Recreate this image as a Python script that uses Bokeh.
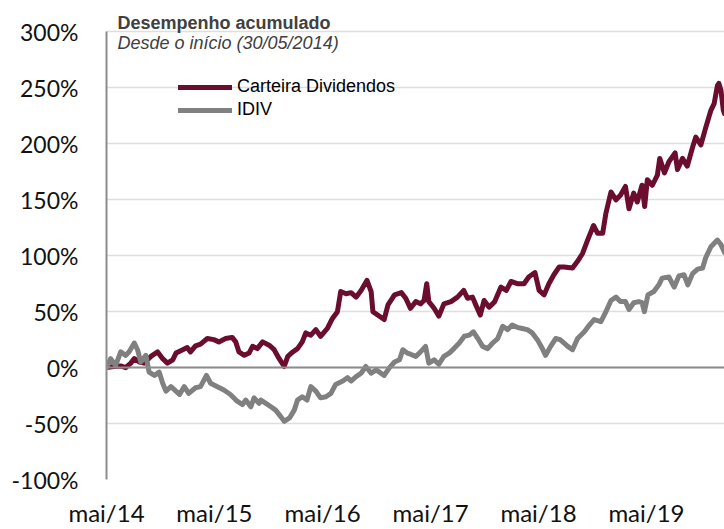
import pandas as pd
from bokeh.plotting import figure
from bokeh.models import (Range1d, FixedTicker, PrintfTickFormatter, Span,
                          Legend, LegendItem, Label, ColumnDataSource)
from bokeh.embed import file_html
from bokeh.resources import INLINE

# ---------------- data ----------------
title_text = "Desempenho acumulado"
subtitle_text = "Desde o início (30/05/2014)"
series_names = ["Carteira Dividendos", "IDIV"]

carteira_dates = [
    "2014-05-30", "2014-06-24", "2014-07-17", "2014-08-03", "2014-08-20", "2014-09-01",
    "2014-09-18", "2014-10-04", "2014-10-27", "2014-11-19", "2014-12-06", "2014-12-22",
    "2015-01-09", "2015-01-20", "2015-02-12", "2015-02-27", "2015-03-10", "2015-03-27",
    "2015-04-13", "2015-05-06", "2015-05-28", "2015-06-14", "2015-07-07", "2015-07-29",
    "2015-08-10", "2015-08-21", "2015-09-08", "2015-09-24", "2015-10-06", "2015-10-22",
    "2015-11-09", "2015-12-01", "2015-12-18", "2016-01-04", "2016-01-21", "2016-02-02",
    "2016-02-19", "2016-03-06", "2016-03-22", "2016-04-03", "2016-04-20", "2016-05-07",
    "2016-05-23", "2016-06-15", "2016-07-02", "2016-07-19", "2016-07-30", "2016-08-17",
    "2016-09-03", "2016-09-20", "2016-10-07", "2016-10-27", "2016-11-10", "2016-11-16",
    "2016-12-02", "2016-12-24", "2017-01-06", "2017-01-28", "2017-02-20", "2017-03-07",
    "2017-03-23", "2017-04-10", "2017-04-26", "2017-05-08", "2017-05-17", "2017-05-24",
    "2017-06-11", "2017-06-27", "2017-07-14", "2017-08-07", "2017-08-29", "2017-09-19",
    "2017-10-02", "2017-10-19", "2017-10-30", "2017-11-14", "2017-11-27", "2017-12-14",
    "2018-01-02", "2018-01-23", "2018-02-10", "2018-02-26", "2018-03-19", "2018-04-11",
    "2018-04-27", "2018-05-18", "2018-06-01", "2018-06-18", "2018-07-04", "2018-07-21",
    "2018-08-08", "2018-08-24", "2018-09-22", "2018-10-09", "2018-10-26", "2018-11-12",
    "2018-12-02", "2018-12-16", "2019-01-02", "2019-01-13", "2019-01-30", "2019-02-16",
    "2019-03-03", "2019-03-20", "2019-04-01", "2019-04-17", "2019-04-29", "2019-05-15",
    "2019-05-24", "2019-06-02", "2019-06-19", "2019-07-06", "2019-07-14", "2019-07-30",
    "2019-08-14", "2019-09-04", "2019-09-12", "2019-09-29", "2019-10-15", "2019-11-02",
    "2019-11-13", "2019-11-30", "2019-12-16", "2020-01-03", "2020-01-14", "2020-01-25",
    "2020-01-30", "2020-02-06", "2020-02-14", "2020-02-18",
]
carteira_values = [
    0, 1, 1.5, 0, 4, 8,
    5, 4, 10, 14, 8, 4,
    7, 13, 16, 18, 14, 19.5,
    21, 26, 25, 23, 26, 27,
    23, 14, 11, 13, 19, 17,
    23, 20, 16, 8, 1, 10,
    14, 17, 23, 31, 29, 34,
    28, 35, 44, 50, 68, 66,
    67, 63, 69, 78, 68, 50,
    47, 43, 56, 65, 67, 62,
    53, 59, 57, 60, 75, 59,
    53, 46, 57, 59, 63, 69,
    62, 63, 56, 47, 60, 54,
    59, 72, 69, 77, 75, 75,
    81, 85, 69, 65, 75, 83,
    90, 90, 89, 95, 102, 114,
    127, 120, 120, 138, 157, 150,
    154, 162, 142, 156, 148, 163,
    144, 168, 163, 172, 187, 174,
    184, 192, 177, 187, 180, 197,
    206, 199, 214, 230, 236, 252,
    254, 248, 230, 227,
]

idiv_dates = [
    "2014-05-30", "2014-06-13", "2014-06-30", "2014-07-17", "2014-08-03", "2014-08-14",
    "2014-09-01", "2014-09-12", "2014-09-23", "2014-10-10", "2014-10-21", "2014-11-08",
    "2014-11-24", "2014-12-06", "2014-12-17", "2015-01-03", "2015-01-20", "2015-02-01",
    "2015-02-17", "2015-03-04", "2015-03-27", "2015-04-13", "2015-05-03", "2015-05-17",
    "2015-06-09", "2015-07-01", "2015-07-23", "2015-08-15", "2015-09-02", "2015-09-13",
    "2015-09-30", "2015-10-11", "2015-10-28", "2015-11-03", "2015-11-20", "2015-12-07",
    "2015-12-23", "2016-01-10", "2016-01-21", "2016-02-08", "2016-02-24", "2016-03-06",
    "2016-03-22", "2016-04-07", "2016-04-20", "2016-05-07", "2016-05-23", "2016-06-10",
    "2016-06-27", "2016-07-13", "2016-08-06", "2016-08-22", "2016-09-03", "2016-09-20",
    "2016-10-07", "2016-10-23", "2016-11-10", "2016-11-27", "2016-12-08", "2016-12-24",
    "2017-01-11", "2017-01-28", "2017-02-14", "2017-02-25", "2017-03-12", "2017-03-23",
    "2017-04-10", "2017-04-26", "2017-05-13", "2017-05-24", "2017-06-11", "2017-06-27",
    "2017-07-14", "2017-08-01", "2017-08-17", "2017-09-04", "2017-09-21", "2017-10-08",
    "2017-10-22", "2017-11-06", "2017-11-22", "2017-12-09", "2017-12-26", "2018-01-12",
    "2018-01-29", "2018-02-15", "2018-03-02", "2018-03-19", "2018-04-05", "2018-04-22",
    "2018-05-09", "2018-05-26", "2018-06-12", "2018-06-23", "2018-07-10", "2018-07-27",
    "2018-08-11", "2018-09-06", "2018-09-22", "2018-10-09", "2018-11-01", "2018-11-18",
    "2018-12-04", "2018-12-27", "2019-01-13", "2019-01-30", "2019-02-16", "2019-03-03",
    "2019-03-20", "2019-04-01", "2019-04-17", "2019-05-04", "2019-05-15", "2019-05-23",
    "2019-06-04", "2019-06-24", "2019-07-11", "2019-07-22", "2019-08-14", "2019-09-01",
    "2019-09-17", "2019-10-04", "2019-10-17", "2019-11-02", "2019-11-19", "2019-12-06",
    "2019-12-16", "2020-01-03", "2020-01-25", "2020-02-06", "2020-02-18",
]
idiv_values = [
    0, 8, 2, 14, 11, 14,
    22, 16, 5, 11, -4, -7,
    -4, -14, -21, -17, -21, -24,
    -17, -23, -18, -17, -7, -14,
    -17, -20, -24, -30, -33, -29,
    -35, -27, -32, -29, -32, -35,
    -38, -44, -48, -45, -38, -29,
    -26, -29, -17, -21, -27, -26,
    -23, -15, -12, -9, -12, -8,
    -5, 1, -5, -2, -4, -7,
    0, 5, 7, 16, 13, 12,
    10, 14, 19, 4, 7, 3,
    10, 13, 17, 22, 28, 29,
    32, 26, 19, 17, 22, 26,
    37, 34, 38, 36, 35, 34,
    31, 25, 17, 11, 19, 26,
    25, 19, 16, 26, 32, 38,
    43, 41, 50, 60, 63, 59,
    59, 52, 58, 59, 58, 50,
    65, 68, 74, 80, 81, 72,
    82, 83, 74, 84, 88, 89,
    98, 108, 114, 110, 103,
]

x_axis_start = "2014-05-30"
x_axis_end = "2020-02-18"
x_tick_dates = ["2014-05-30", "2015-05-30", "2016-05-30", "2017-05-30", "2018-05-30", "2019-05-30"]
x_tick_labels = ["mai/14", "mai/15", "mai/16", "mai/17", "mai/18", "mai/19"]
y_ticks = [-100, -50, 0, 50, 100, 150, 200, 250, 300]

# ---------------- layout / styles ----------------
FIG_W, FIG_H = 724, 529
LEFT = 106
BOTTOM = 49.5
PX_PER_UNIT = 1.12          # pixels per percentage point
frame_h = FIG_H - BOTTOM
y_bottom = y_ticks[0]
y_top = y_bottom + frame_h / PX_PER_UNIT   # head-room above 300% for the titles

RED = "#6b0d2f"
GREY = "#808080"
TEXT = "#404040"


def ms(d):
    return pd.Timestamp(d).value / 1e6


src_c = ColumnDataSource(dict(x=pd.to_datetime(carteira_dates), y=carteira_values))
src_i = ColumnDataSource(dict(x=pd.to_datetime(idiv_dates), y=idiv_values))

p = figure(width=FIG_W, height=FIG_H, title=None, x_axis_type="datetime",
           x_range=Range1d(ms(x_axis_start), ms(x_axis_end)),
           y_range=Range1d(y_bottom, y_top),
           output_backend="svg", toolbar_location=None,
           min_border_left=LEFT, min_border_right=0,
           min_border_top=0, min_border_bottom=49)
p.outline_line_color = None
p.background_fill_color = "white"
p.border_fill_color = "white"

# grid
p.xgrid.grid_line_color = None
p.ygrid.grid_line_color = "#dedede"
p.ygrid.grid_line_width = 1.5

# y axis
p.yaxis.ticker = FixedTicker(ticks=y_ticks)
p.yaxis.bounds = (y_ticks[0], y_ticks[-1])
p.yaxis.formatter = PrintfTickFormatter(format="%d%%")
p.yaxis.axis_line_color = "#8c8c8c"
p.yaxis.axis_line_width = 2
p.yaxis.major_tick_line_color = None
p.yaxis.minor_tick_line_color = None
p.yaxis.major_tick_out = 0
p.yaxis.major_tick_in = 0
p.yaxis.major_label_text_font = "Lato"
p.yaxis.major_label_text_font_size = "23px"
p.yaxis.major_label_text_color = "#111111"
p.yaxis.major_label_standoff = 28

# x axis
tick_ms = [ms(d) for d in x_tick_dates]
p.xaxis.ticker = FixedTicker(ticks=tick_ms)
p.xaxis.major_label_overrides = {t: lab for t, lab in zip(tick_ms, x_tick_labels)}
p.xaxis.axis_line_color = None
p.xaxis.major_tick_line_color = None
p.xaxis.minor_tick_line_color = None
p.xaxis.major_tick_out = 0
p.xaxis.major_tick_in = 0
p.xaxis.axis_label_standoff = 0
p.xaxis.major_label_text_font = "Lato"
p.xaxis.major_label_text_font_size = "24px"
p.xaxis.major_label_text_color = "#111111"
p.xaxis.major_label_standoff = 18

# zero line
p.add_layout(Span(location=0, dimension="width", line_color="#8c8c8c", line_width=2))

r_c = p.line("x", "y", source=src_c, line_color=RED, line_width=5, line_join="round", line_cap="round")
r_i = p.line("x", "y", source=src_i, line_color=GREY, line_width=5, line_join="round", line_cap="round")

legend = Legend(items=[LegendItem(label=series_names[0], renderers=[r_c]),
                       LegendItem(label=series_names[1], renderers=[r_i])],
                location=(72, 359), orientation="vertical",
                glyph_width=54, glyph_height=20, label_height=20,
                label_standoff=5, spacing=2, padding=0, margin=0,
                background_fill_alpha=0, border_line_color=None,
                label_text_font="Liberation Sans", label_text_font_size="18px",
                label_text_color="#000000")
p.add_layout(legend)

p.add_layout(Label(x=ms(x_axis_start), y=y_ticks[-1], x_offset=11, y_offset=9,
                   text=title_text, text_font="Liberation Sans", text_font_size="18px",
                   text_font_style="bold", text_color=TEXT, text_baseline="middle"))
p.add_layout(Label(x=ms(x_axis_start), y=y_ticks[-1], x_offset=11, y_offset=-11,
                   text=subtitle_text, text_font="Liberation Sans", text_font_size="18px",
                   text_font_style="italic", text_color=TEXT, text_baseline="middle"))

open("out.html", "w").write(file_html(p, INLINE))
